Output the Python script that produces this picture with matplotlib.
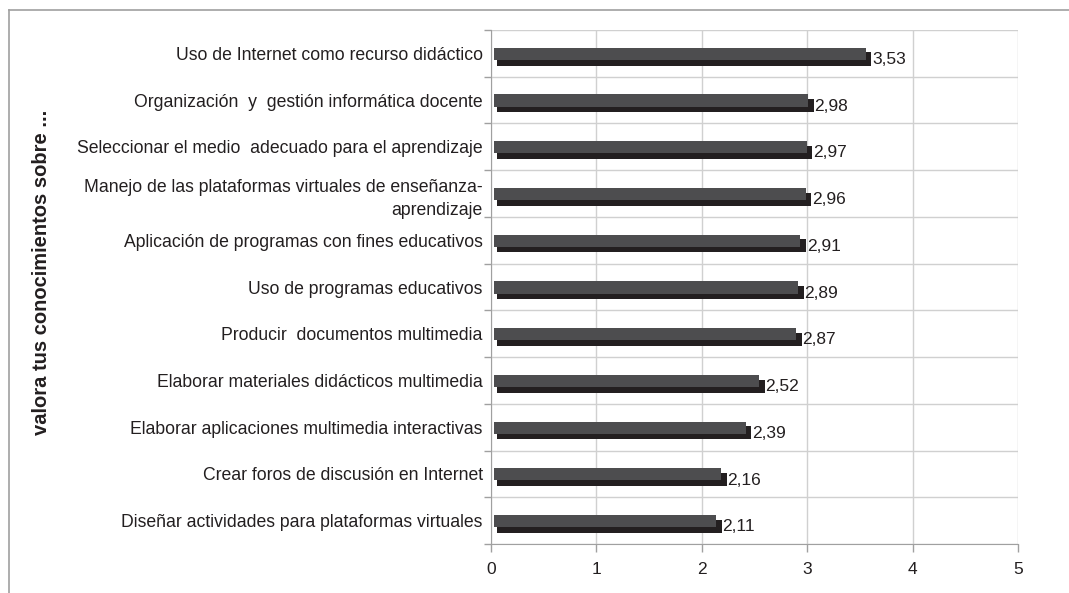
import matplotlib.pyplot as plt
from matplotlib.lines import Line2D
import numpy as np

plt.rcParams['font.family'] = ['Liberation Sans', 'DejaVu Sans']

categories = [
    "Uso de Internet como recurso didáctico",
    "Organización  y  gestión informática docente",
    "Seleccionar el medio  adecuado para el aprendizaje",
    "Manejo de las plataformas virtuales de enseñanza-\naprendizaje",
    "Aplicación de programas con fines educativos",
    "Uso de programas educativos",
    "Producir  documentos multimedia",
    "Elaborar materiales didácticos multimedia",
    "Elaborar aplicaciones multimedia interactivas",
    "Crear foros de discusión en Internet",
    "Diseñar actividades para plataformas virtuales",
]
values = [3.53, 2.98, 2.97, 2.96, 2.91, 2.89, 2.87, 2.52, 2.39, 2.16, 2.11]
value_labels = ["3,53", "2,98", "2,97", "2,96", "2,91", "2,89", "2,87", "2,52", "2,39", "2,16", "2,11"]
xticks = [0, 1, 2, 3, 4, 5]

fig = plt.figure(figsize=(10.69, 5.93), dpi=100)
ax = fig.add_axes([0.4593, 0.0826, 0.4930, 0.8668])

y = np.arange(len(categories))
vals = np.array(values)

# dark "depth" bar behind, gray face bar in front
ax.barh(y + 0.12, vals + 0.025, left=0.055, height=0.28, color='#231f20', zorder=2)
ax.barh(y + 0.01, vals, left=0.025, height=0.26, color='#4d4d4f', zorder=3)

for yi, v, lab in zip(y, vals, value_labels):
    ax.text(v + 0.085, yi + 0.13, lab, ha='left', va='center', fontsize=12.5, color='#231f20')

ax.set_xlim(0, 5)
ax.set_ylim(len(categories) - 0.5, -0.5)
ax.set_xticks(xticks)
ax.set_xticklabels([str(t) for t in xticks], fontsize=12.5, color='#231f20')
ax.set_yticks(y)
ax.set_yticklabels(categories, fontsize=12.7, color='#231f20', linespacing=1.5)
ax.set_yticks(np.arange(len(categories) + 1) - 0.5, minor=True)

ax.tick_params(axis='y', which='major', length=0, pad=6)
ax.tick_params(axis='y', which='minor', length=5, color='#a0a0a0', width=1)
ax.tick_params(axis='x', which='major', length=6, color='#a0a0a0', width=1, pad=7)

ax.grid(True, axis='x', which='major', color='#d0d0d0', lw=1, zorder=0)
ax.grid(True, axis='y', which='minor', color='#d0d0d0', lw=1, zorder=0)
ax.set_axisbelow(True)

for s in ['top', 'right']:
    ax.spines[s].set_visible(False)
ax.spines['left'].set_color('#a0a0a0')
ax.spines['bottom'].set_color('#a0a0a0')

fig.text(0.039, 0.540, "valora tus conocimientos sobre ...", rotation=90,
         ha='center', va='center', fontsize=14.5, fontweight='bold', color='#231f20')

# outer frame (top and left edges)
fig.add_artist(Line2D([9 / 1069, 1.0], [1 - 10 / 593, 1 - 10 / 593], color='#a0a0a0', lw=1.2))
fig.add_artist(Line2D([9 / 1069, 9 / 1069], [0.0, 1 - 10 / 593], color='#a0a0a0', lw=1.2))

plt.savefig("out.png", dpi=100)
